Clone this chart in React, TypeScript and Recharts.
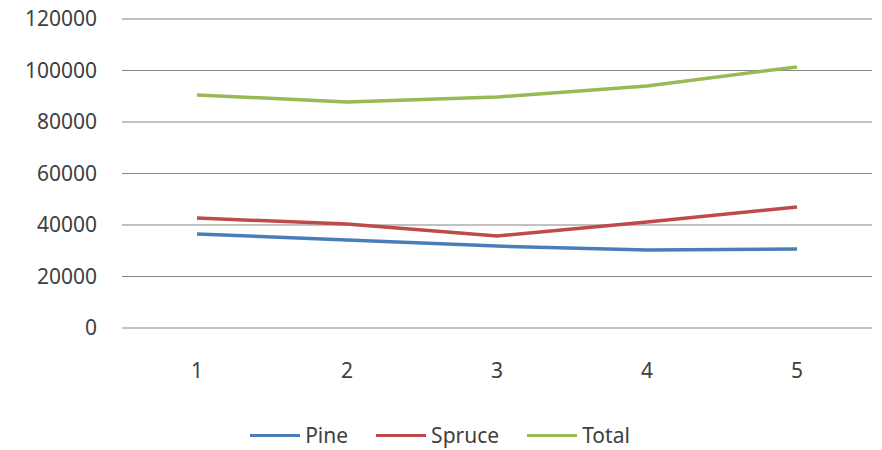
import { LineChart, Line, XAxis, YAxis, CartesianGrid, Legend } from 'recharts'

const categories = ['1', '2', '3', '4', '5']
const pine = [36500, 34200, 31800, 30300, 30700]
const spruce = [42700, 40400, 35700, 41200, 47000]
const total = [90500, 87800, 89700, 94000, 101400]
const yTicks = [0, 20000, 40000, 60000, 80000, 100000, 120000]

const series = [
    { key: 'Pine', color: '#4A7EBB' },
    { key: 'Spruce', color: '#BE4B48' },
    { key: 'Total', color: '#98B954' },
]

const data = categories.map((c, i) => ({ name: c, Pine: pine[i], Spruce: spruce[i], Total: total[i] }))

const font = '"Noto Sans", "Open Sans", sans-serif'

function LegendBox() {
    return (
        <div style={{ display: 'flex', justifyContent: 'center', alignItems: 'center', fontFamily: font, fontSize: 21, lineHeight: '30px', color: '#404040', paddingLeft: 36 }}>
            {series.map(s => (
                <div key={s.key} style={{ display: 'flex', alignItems: 'center', marginRight: 28 }}>
                    <div style={{ width: 50, height: 3, backgroundColor: s.color, marginRight: 5 }}></div>
                    <span>{s.key}</span>
                </div>
            ))}
        </div>
    )
}

export default function App() {
    return (
        <div style={{ position: 'absolute', top: 0, left: 0, background: '#fff' }}>
            <LineChart width={882} height={450} data={data} margin={{ top: 19, right: 10, bottom: 0, left: 0 }}>
                <CartesianGrid vertical={false} stroke="#868686" strokeWidth={1.2} />
                <XAxis
                    dataKey="name"
                    axisLine={false}
                    tickLine={false}
                    tickSize={0}
                    tickMargin={35}
                    height={92}
                    padding={{ left: 75, right: 75 }}
                    tick={{ fill: '#404040', fontSize: 21, fontFamily: font }}
                />
                <YAxis
                    width={122}
                    domain={[0, 120000]}
                    ticks={yTicks}
                    interval={0}
                    axisLine={false}
                    tickLine={false}
                    tickSize={0}
                    tickMargin={25}
                    tick={{ fill: '#404040', fontSize: 21, fontFamily: font }}
                />
                <Legend verticalAlign="bottom" height={30} content={() => <LegendBox />} />
                {series.map(s => (
                    <Line
                        key={s.key}
                        type="linear"
                        dataKey={s.key}
                        stroke={s.color}
                        strokeWidth={3.5}
                        dot={false}
                        activeDot={false}
                        isAnimationActive={false}
                    />
                ))}
            </LineChart>
        </div>
    )
}
